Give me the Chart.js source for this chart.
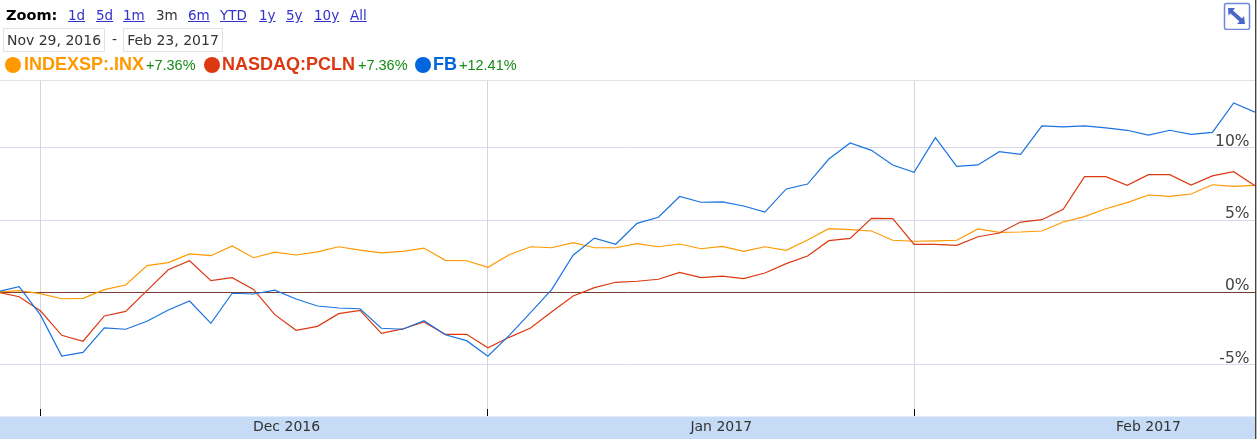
<!DOCTYPE html>
<html><head><meta charset="utf-8">
<script src="https://cdn.jsdelivr.net/npm/chart.js@4"></script>
<style>
html,body{margin:0;padding:0;background:#fff;overflow:hidden}
#wrap{position:relative;width:1257px;height:439px;font-family:"Liberation Sans",Arial,sans-serif}
#band{position:absolute;left:0;top:416px;width:1255px;height:23px;background:#c6dbf5;border-top:1px solid #e2ecfa;box-sizing:border-box}
#edge{position:absolute;left:1255px;top:0;width:1px;height:439px;background:#444;box-shadow:1px 0 0 #bbb}
#c{position:absolute;left:0;top:0}
.h{position:absolute;white-space:nowrap}
.z{position:absolute;top:7px;font-family:"DejaVu Sans",sans-serif;font-size:13.5px;line-height:17px;color:#3333cc;text-decoration:underline;white-space:nowrap}
.d{position:absolute;top:28px;height:24px;line-height:23px;border:1px solid #e3e3e3;font-family:"DejaVu Sans",sans-serif;font-size:14px;color:#333;text-align:center;box-sizing:border-box;white-space:nowrap}
.dot{position:absolute;top:57px;width:16px;height:16px;border-radius:50%}
.n{position:absolute;top:54px;font-weight:bold;font-size:18px;line-height:21px;white-space:nowrap}
.p{position:absolute;top:57px;font-size:14.5px;color:#158a15;white-space:nowrap}
</style></head><body>
<div id="wrap">
<div id="band"></div>
<div id="edge"></div>
<canvas id="c" width="1257" height="439"></canvas>
<div class="h" style="left:6px;top:7px;font:bold 14.5px/17px 'DejaVu Sans',sans-serif;color:#000">Zoom:</div>
<a class="z" style="left:68px">1d</a><a class="z" style="left:96px">5d</a><a class="z" style="left:123px">1m</a>
<span class="z" style="left:156px;color:#333;text-decoration:none">3m</span>
<a class="z" style="left:188px">6m</a><a class="z" style="left:220px">YTD</a><a class="z" style="left:259px">1y</a><a class="z" style="left:286px">5y</a><a class="z" style="left:314px">10y</a><a class="z" style="left:350px">All</a>
<div class="d" style="left:3px;width:102px">Nov 29, 2016</div>
<div class="h" style="left:112px;top:31px;font:14px 'DejaVu Sans',sans-serif;color:#333">-</div>
<div class="d" style="left:123px;width:100px">Feb 23, 2017</div>
<div class="dot" style="left:5px;background:#ff9900"></div>
<div class="n" style="left:24px;color:#ff9900">INDEXSP:.INX</div>
<div class="p" style="left:146px">+7.36%</div>
<div class="dot" style="left:204px;background:#dc3912"></div>
<div class="n" style="left:222px;color:#dc3912">NASDAQ:PCLN</div>
<div class="p" style="left:358px">+7.36%</div>
<div class="dot" style="left:415px;background:#0066dd"></div>
<div class="n" style="left:433px;color:#0066dd">FB</div>
<div class="p" style="left:459px">+12.41%</div>
<svg class="h" style="left:1223px;top:2px" width="28" height="28" viewBox="0 0 28 28">
<rect x="1.5" y="1.5" width="25" height="26" rx="2" fill="#fff" stroke="#6f86dc" stroke-width="1.5"/>
<path d="M5 6 L12 6 L10 8.5 L19 16.5 L21 14 L22 22 L14 22 L16.5 19.5 L7.5 11.5 L5.5 13.5 Z" fill="#4a66c8"/>
</svg>
</div>
<script>
const dates = ["Nov 29","Nov 30","Dec 1","Dec 2","Dec 5","Dec 6","Dec 7","Dec 8","Dec 9","Dec 12","Dec 13","Dec 14","Dec 15","Dec 16","Dec 19","Dec 20","Dec 21","Dec 22","Dec 23","Dec 27","Dec 28","Dec 29","Dec 30","Jan 3","Jan 4","Jan 5","Jan 6","Jan 9","Jan 10","Jan 11","Jan 12","Jan 13","Jan 17","Jan 18","Jan 19","Jan 20","Jan 23","Jan 24","Jan 25","Jan 26","Jan 27","Jan 30","Jan 31","Feb 1","Feb 2","Feb 3","Feb 6","Feb 7","Feb 8","Feb 9","Feb 10","Feb 13","Feb 14","Feb 15","Feb 16","Feb 17","Feb 21","Feb 22","Feb 23","Feb 24"];
const inx = [0.03,0.12,-0.09,-0.44,-0.41,0.19,0.51,1.85,2.06,2.66,2.54,3.21,2.40,2.78,2.59,2.80,3.16,2.93,2.73,2.84,3.07,2.22,2.19,1.74,2.61,3.16,3.09,3.44,3.09,3.09,3.37,3.16,3.35,3.02,3.19,2.84,3.16,2.91,3.63,4.41,4.34,4.25,3.61,3.54,3.56,3.61,4.39,4.16,4.18,4.25,4.87,5.24,5.79,6.21,6.74,6.65,6.81,7.45,7.34,7.41];
const pcln = [0.01,-0.30,-1.27,-2.97,-3.38,-1.63,-1.31,0.12,1.57,2.19,0.81,1.02,0.21,-1.54,-2.62,-2.35,-1.47,-1.24,-2.83,-2.53,-2.05,-2.90,-2.90,-3.83,-3.11,-2.46,-1.34,-0.25,0.33,0.70,0.77,0.91,1.39,1.02,1.13,0.95,1.34,1.99,2.52,3.58,3.74,5.13,5.10,3.33,3.33,3.26,3.85,4.11,4.87,5.03,5.75,8.01,8.01,7.41,8.15,8.15,7.43,8.06,8.35,7.38];
const fb = [0.05,0.39,-1.56,-4.40,-4.15,-2.46,-2.55,-2.00,-1.22,-0.60,-2.14,-0.06,-0.11,0.15,-0.46,-0.94,-1.08,-1.13,-2.48,-2.55,-1.96,-2.93,-3.34,-4.42,-2.97,-1.40,0.21,2.57,3.76,3.33,4.78,5.20,6.64,6.24,6.26,5.98,5.56,7.16,7.50,9.23,10.34,9.83,8.82,8.31,10.71,8.73,8.82,9.74,9.56,11.52,11.45,11.52,11.38,11.22,10.89,11.22,10.94,11.08,13.11,12.48];
const yTicks = [-5,0,5,10];
const monthStarts = [2,23,43];
const monthLabels = {13.55:"Dec 2016",33.95:"Jan 2017",54:"Feb 2017"};
const xTicks = [2,13.55,23,33.95,43,54];
const yTop = 14.7, yBottom = -8.07, xFirst = 0.103, xLast = 59;
const pts = a => a.map((y,i)=>({x:i,y}));
const line = (label,data,color)=>({label,data:pts(data),borderColor:color,borderWidth:1.2,pointRadius:0,tension:0,fill:false});
new Chart(document.getElementById('c'),{
 type:'line',
 data:{datasets:[line('FB',fb,'#1a73e0'),line('NASDAQ:PCLN',pcln,'#dc3912'),line('INDEXSP:.INX',inx,'#ff9900')]},
 options:{
  responsive:false,animation:false,parsing:false,normalized:true,
  layout:{padding:{top:80,right:2,left:0,bottom:0}},
  plugins:{legend:{display:false},tooltip:{enabled:false}},
  scales:{
   x:{type:'linear',min:xFirst,max:xLast,
      afterBuildTicks:s=>{s.ticks=xTicks.map(v=>({value:v}))},
      afterFit:s=>{s.height=30},
      border:{display:false},
      grid:{drawOnChartArea:true,tickLength:7,lineWidth:1,
        color:c=>monthStarts.includes(c.tick&&c.tick.value)?'#d6d6d6':'rgba(0,0,0,0)',
        tickColor:c=>monthStarts.includes(c.tick&&c.tick.value)?'#000':'rgba(0,0,0,0)'},
      ticks:{autoSkip:false,maxRotation:0,minRotation:0,padding:3,color:'#333',
        font:{family:'"DejaVu Sans",sans-serif',size:14},
        callback:v=>monthLabels[v]||''}},
   y:{position:'right',min:yBottom,max:yTop,
      afterBuildTicks:s=>{s.ticks=[...yTicks,yTop].map(v=>({value:v}))},
      afterFit:s=>{s.width=0},
      border:{display:false},
      grid:{drawTicks:false,lineWidth:1,
        color:c=>{const v=c.tick&&c.tick.value;return v===0?'#7a3b30':v===yTop?'#e3e3e3':'#d9d9ea'}},
      ticks:{mirror:true,padding:-5.5,labelOffset:-6,color:'#444',
        font:{family:'"DejaVu Sans",sans-serif',size:15.5},
        callback:v=>v===yTop?'':v+'%'}}
  }
 }
});
</script>
</body></html>
